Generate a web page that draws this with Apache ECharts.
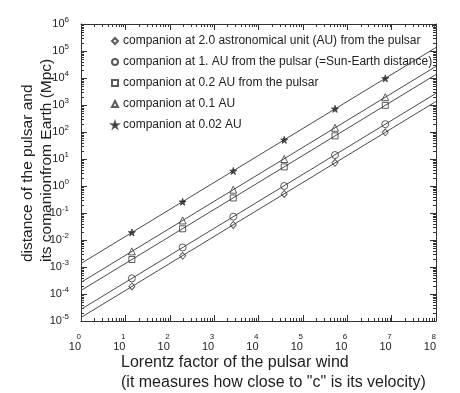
<!DOCTYPE html>
<html>
<head>
<meta charset="utf-8">
<script src="https://cdn.jsdelivr.net/npm/echarts@6/dist/echarts.min.js"></script>
<style>
html,body{margin:0;padding:0;background:#fff;}
#chart{width:460px;height:393px;}
</style>
</head>
<body>
<div id="chart"></div>
<script>
// Lorentz factor at which markers are drawn
const gamma = [14, 195, 2700, 38000, 530000, 7200000];
// distance (Mpc) for each companion separation, at the marker positions
const at2AU   = [1.9e-4, 0.0026, 0.036, 0.51, 7.2, 97];
const at1AU   = [3.8e-4, 0.0053, 0.073, 1.0, 14, 195];
const at02AU  = [0.0019, 0.026, 0.36, 5.1, 72, 970];
const at01AU  = [0.0038, 0.053, 0.73, 10, 143, 1950];
const at002AU = [0.019, 0.26, 3.6, 51, 720, 9700];
// straight lines across the full Lorentz-factor range
const lineGamma   = [1, 1e8];
const line2AU     = [1.35e-5, 1350];
const line1AU     = [2.7e-5, 2700];
const line02AU    = [1.35e-4, 13500];
const line01AU    = [2.7e-4, 27000];
const line002AU   = [1.35e-3, 135000];

// tick values
const xTicks = [1, 10, 100, 1e3, 1e4, 1e5, 1e6, 1e7, 1e8];
const yTicks = [1e-5, 1e-4, 1e-3, 1e-2, 1e-1, 1, 10, 100, 1e3, 1e4, 1e5, 1e6];
const minorMultipliers = [2, 3, 4, 5, 6, 7, 8, 9];

const names = [
  'companion at 2.0 astronomical unit (AU) from the pulsar',
  'companion at 1. AU from the pulsar (=Sun-Earth distance)',
  'companion at 0.2 AU from the pulsar',
  'companion at 0.1 AU',
  'companion at 0.02 AU'
];
const xRange = [xTicks[0], xTicks[xTicks.length - 1]];
const yRange = [yTicks[0], yTicks[yTicks.length - 1]];

const FONT = '"Liberation Sans", Arial, Helvetica, sans-serif';
const INK = '#222';
const LINE = '#4a4a4a';
const FRAME = '#333333';

function pairs(xs, ys) { return xs.map((x, i) => [x, ys[i]]); }
function minorsOf(decades) {
  const out = [];
  for (let i = 0; i < decades.length - 1; i++) minorMultipliers.forEach(m => out.push(decades[i] * m));
  return out;
}

const starPath = 'path://M50,0 L61,35 L98,35 L68,57 L79,91 L50,70 L21,91 L32,57 L2,35 L39,35 Z';
const markerDefs = [
  { data: at2AU,   line: line2AU,   symbol: 'diamond',  size: [6, 7], fill: 'rgba(255,255,255,0)' },
  { data: at1AU,   line: line1AU,   symbol: 'circle',   size: 7,      fill: 'rgba(255,255,255,0)' },
  { data: at02AU,  line: line02AU,  symbol: 'rect',     size: 6,      fill: 'rgba(255,255,255,0)' },
  { data: at01AU,  line: line01AU,  symbol: 'triangle', size: 7,      fill: 'rgba(255,255,255,0)' },
  { data: at002AU, line: line002AU, symbol: starPath,   size: 7,      fill: '#222' }
];

const series = [];
markerDefs.forEach((m, i) => {
  series.push({
    type: 'line', name: 'line' + i, data: pairs(lineGamma, m.line),
    showSymbol: false, silent: true, lineStyle: { color: LINE, width: 1 }, z: 2
  });
});
markerDefs.forEach((m, i) => {
  series.push({
    type: 'scatter', name: names[i], data: pairs(gamma, m.data),
    symbol: m.symbol, symbolSize: m.size,
    itemStyle: { color: m.fill, borderColor: '#333', borderWidth: 1 }, z: 3
  });
});

const exp10 = v => Math.round(Math.log10(v));
function axisLine() { return { show: true, lineStyle: { color: FRAME, width: 1 } }; }
function majorTick() { return { show: true, inside: true, length: 6, lineStyle: { color: FRAME, width: 1 } }; }

const titleGraphics = [{
  type: 'text', left: 121, top: 353,
  style: {
    text: 'Lorentz factor of the pulsar wind\n(it measures how close to "c" is its velocity)',
    font: '16px ' + FONT, fill: INK, lineHeight: 20, align: 'left'
  }
}, {
  type: 'text', x: 37.5, y: 262, rotation: Math.PI / 2,
  style: {
    text: 'distance of the pulsar and\nits comanionfrom Earth (Mpc)',
    font: '15.5px ' + FONT, fill: INK, lineHeight: 19, align: 'left', verticalAlign: 'middle',
    x: 0, y: 0
  }
}];

const option = {
  animation: false,
  backgroundColor: '#fff',
  grid: { left: 81, right: 24, top: 24, bottom: 72 },
  legend: {
    orient: 'vertical', left: 106, top: 30,
    data: names, itemWidth: 6, itemHeight: 6, itemGap: 9,
    textStyle: { fontFamily: FONT, fontSize: 12, color: INK, lineHeight: 12 },
    selectedMode: false
  },
  xAxis: [{
    type: 'log', min: xRange[0], max: xRange[1], interval: 1,
    axisLine: axisLine(), axisTick: majorTick(), splitLine: { show: false },
    axisLabel: {
      margin: 11, align: 'right', color: INK, fontFamily: FONT,
      formatter: v => '{e|' + exp10(v) + '}\n{b|10}',
      rich: {
        e: { fontSize: 8, lineHeight: 9, align: 'right', fontFamily: FONT, color: INK },
        b: { fontSize: 11, lineHeight: 12, align: 'right', fontFamily: FONT, color: INK }
      }
    }
  }, {
    type: 'log', min: xRange[0], max: xRange[1], interval: 1, position: 'top',
    axisLine: axisLine(), axisTick: majorTick(), splitLine: { show: false },
    axisLabel: { show: false }
  }],
  yAxis: [{
    type: 'log', min: yRange[0], max: yRange[1], interval: 1,
    axisLine: axisLine(), axisTick: majorTick(), splitLine: { show: false },
    axisLabel: {
      margin: 12, color: INK, fontFamily: FONT,
      formatter: v => '{b|10}{e|' + exp10(v) + '}',
      rich: {
        b: { fontSize: 11, lineHeight: 16, fontFamily: FONT, color: INK },
        e: { fontSize: 8, lineHeight: 9, verticalAlign: 'top', fontFamily: FONT, color: INK }
      }
    }
  }, {
    type: 'log', min: yRange[0], max: yRange[1], interval: 1, position: 'right',
    axisLine: axisLine(), axisTick: majorTick(), splitLine: { show: false },
    axisLabel: { show: false }
  }],
  graphic: titleGraphics,
  series: series
};

const chart = echarts.init(document.getElementById('chart'), null, { renderer: 'canvas' });
chart.setOption(option);

// logarithmic minor ticks (inward) on all four sides, placed through the chart's own scales
function px(x, y) { return chart.convertToPixel({ gridIndex: 0 }, [x, y]); }
const tickGraphics = [];
function tickLine(x1, y1, x2, y2) {
  tickGraphics.push({
    type: 'line',
    shape: { x1: x1, y1: y1, x2: x2, y2: y2 },
    style: { stroke: FRAME, lineWidth: 1 }
  });
}
minorsOf(xTicks).forEach(v => {
  const b = px(v, yRange[0]), t = px(v, yRange[1]);
  const x = Math.round(b[0]) + 0.5;
  tickLine(x, b[1], x, b[1] - 3);
  tickLine(x, t[1], x, t[1] + 3);
});
minorsOf(yTicks).forEach(v => {
  const l = px(xRange[0], v), r = px(xRange[1], v);
  const y = Math.round(l[1]) + 0.5;
  tickLine(l[0], y, l[0] + 3, y);
  tickLine(r[0], y, r[0] - 3, y);
});

chart.setOption({ graphic: titleGraphics.concat(tickGraphics) });
</script>
</body>
</html>
